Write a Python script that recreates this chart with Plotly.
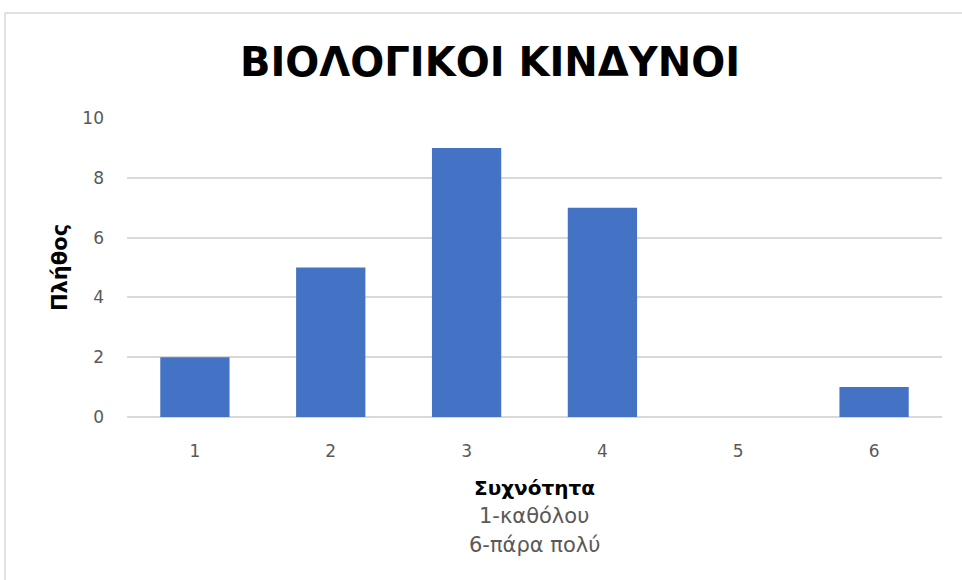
import plotly.graph_objects as go

categories = ["1", "2", "3", "4", "5", "6"]
counts = [2, 5, 9, 7, 0, 1]
y_ticks = [0, 2, 4, 6, 8, 10]

title_text = "ΒΙΟΛΟΓΙΚΟΙ ΚΙΝΔΥΝΟΙ"
y_title = "Πλήθος"
x_title_lines = ["Συχνότητα", "1-καθόλου", "6-πάρα πολύ"]

W, H = 962, 580
ML, MR, MT, MB = 127, 20, 118, 163
PW, PH = W - ML - MR, H - MT - MB

def px_x(x):
    return (x - ML) / PW

def px_y(y):
    return 1 - (y - MT) / PH

FONT = "DejaVu Sans"

fig = go.Figure()
fig.add_trace(go.Bar(
    x=categories, y=counts,
    marker=dict(color="#4472C4", line=dict(width=0)),
    width=0.51,
))

fig.update_layout(
    width=W, height=H,
    margin=dict(l=ML, r=MR, t=MT, b=MB),
    paper_bgcolor="white", plot_bgcolor="white",
    showlegend=False,
    font=dict(family=FONT, color="#595959", size=17),
    title=dict(text="<b>" + title_text + "</b>", xref="container", x=490 / W,
               xanchor="center", yref="container", y=1 - 62 / H, yanchor="middle",
               font=dict(family=FONT, size=40, color="black")),
    xaxis=dict(type="category", showgrid=False, showline=False, zeroline=False,
               ticks="", ticklabelstandoff=22, tickfont=dict(size=17, color="#595959")),
    yaxis=dict(range=[0, 10], tickvals=y_ticks, showgrid=True, gridcolor="#D9D9D9",
               gridwidth=1.5, zeroline=True, zerolinecolor="#D9D9D9", zerolinewidth=1.5,
               showline=False, ticks="", ticklabelstandoff=22,
               tickfont=dict(size=17, color="#595959")),
)

fig.add_annotation(text="<b>" + y_title + "</b>", textangle=-90, xref="paper", yref="paper",
                   x=px_x(60), y=px_y(268), xanchor="center", yanchor="middle", showarrow=False,
                   font=dict(family=FONT, size=21, color="black"))

x_title_y = [488, 516, 545]
for i, (line, yy) in enumerate(zip(x_title_lines, x_title_y)):
    txt = "<b>" + line + "</b>" if i == 0 else line
    fig.add_annotation(text=txt, xref="paper", yref="paper", x=px_x(534), y=px_y(yy),
                       xanchor="center", yanchor="middle", showarrow=False,
                       font=dict(family=FONT, size=21 if i else 20, color="black" if i == 0 else "#595959"))

fig.add_shape(type="rect", xref="paper", yref="paper",
              x0=px_x(5), x1=px_x(975), y0=px_y(595), y1=px_y(13),
              line=dict(color="#D9D9D9", width=1.5), fillcolor="rgba(0,0,0,0)", layer="below")

fig.write_html("out.html", config={"displayModeBar": False},
               post_script="document.body.style.margin='0';")
